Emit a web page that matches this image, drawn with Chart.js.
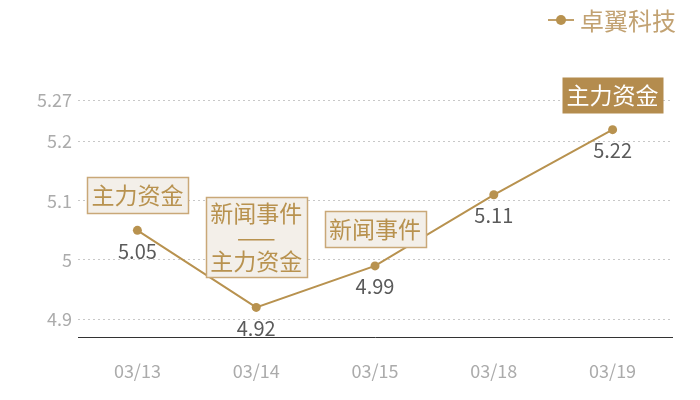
<!DOCTYPE html>
<html>
<head>
<meta charset="utf-8">
<script src="https://cdn.jsdelivr.net/npm/chart.js@4/dist/chart.umd.min.js"></script>
<style>
  html, body { margin: 0; padding: 0; background: #fff; }
  #wrap { width: 700px; height: 400px; }
</style>
</head>
<body>
<div id="wrap"><canvas id="stockChart" width="700" height="400"></canvas></div>
<script>
const seriesName = '卓翼科技';
const dates = ['03/13', '03/14', '03/15', '03/18', '03/19'];
const prices = [5.05, 4.92, 4.99, 5.11, 5.22];
const yTicks = [4.9, 5, 5.1, 5.2, 5.27];
const yMin = 4.87;
const yMax = 5.27;
// event tags above each point (null = none)
const eventTags = [['主力资金'], ['新闻事件', '——', '主力资金'], ['新闻事件'], null, ['主力资金']];
const tagHighlighted = [false, false, false, false, true];

const GOLD = '#b8924f';
const FONT = '"Noto Sans CJK SC", "Noto Sans", sans-serif';

// draws value labels, event boxes and the legend
const decorPlugin = {
  id: 'decor',
  afterDatasetsDraw(chart, args, opts) {
    const ctx = chart.ctx;
    const meta = chart.getDatasetMeta(0);
    ctx.save();
    // value labels under points
    ctx.font = '20px ' + FONT;
    ctx.fillStyle = '#5a5a5a';
    ctx.textAlign = 'center';
    ctx.textBaseline = 'middle';
    meta.data.forEach((pt, i) => {
      ctx.fillText(prices[i].toFixed(2), pt.x, pt.y + 21);
    });

    // event boxes
    ctx.font = '23px ' + FONT;
    meta.data.forEach((pt, i) => {
      const lines = eventTags[i];
      if (!lines) return;
      const w = 101, lh = 24;
      const h = lines.length === 1 ? 36 : lines.length * lh + 8;
      const gap = opts.gaps[i];
      const x = Math.round(pt.x - w / 2) + 0.5;
      const y = Math.round(pt.y - gap - h) + 0.5;
      if (tagHighlighted[i]) {
        ctx.fillStyle = '#b48c4e';
        ctx.fillRect(x, y, w, h);
        ctx.fillStyle = '#ffffff';
      } else {
        ctx.fillStyle = '#f3efe9';
        ctx.fillRect(x, y, w, h);
        ctx.strokeStyle = '#c9a878';
        ctx.lineWidth = 1.5;
        ctx.strokeRect(x, y, w, h);
        ctx.fillStyle = GOLD;
      }
      const startY = y + h / 2 - (lines.length - 1) * lh / 2;
      lines.forEach((t, k) => {
        ctx.fillText(t, pt.x, startY + k * lh);
      });
    });

    // legend
    const lx = 548, ly = 20;
    ctx.strokeStyle = '#c1a06a';
    ctx.lineWidth = 2;
    ctx.beginPath();
    ctx.moveTo(lx, ly);
    ctx.lineTo(lx + 26, ly);
    ctx.stroke();
    ctx.fillStyle = '#b8924f';
    ctx.beginPath();
    ctx.arc(lx + 13, ly, 5, 0, Math.PI * 2);
    ctx.fill();
    ctx.fillStyle = '#c2a272';
    ctx.textAlign = 'left';
    ctx.font = '24px ' + FONT;
    ctx.fillText(seriesName, lx + 32, ly + 1);
    ctx.restore();
  }
};

new Chart(document.getElementById('stockChart'), {
  type: 'line',
  data: {
    labels: dates,
    datasets: [{
      label: seriesName,
      data: prices,
      borderColor: GOLD,
      backgroundColor: GOLD,
      borderWidth: 2,
      pointRadius: 4.5,
      pointBackgroundColor: GOLD,
      pointBorderWidth: 0,
      tension: 0
    }]
  },
  options: {
    responsive: false,
    animation: false,
    layout: { padding: { top: 100, right: 28, left: 0, bottom: 0 } },
    plugins: {
      legend: { display: false },
      tooltip: { enabled: false },
      decor: { gaps: [17, 30, 19, 0, 17] }
    },
    scales: {
      x: {
        offset: true,
        grid: { display: false, drawTicks: false },
        border: { display: true, color: '#333', width: 1 },
        ticks: { color: '#ababab', font: { family: FONT, size: 18 }, padding: 23 },
        afterFit: (s) => { s.height = 63; }
      },
      y: {
        min: yMin,
        max: yMax,
        afterBuildTicks: (s) => { s.ticks = yTicks.map(v => ({ value: v })); },
        grid: { color: '#c8c8c8', drawTicks: false, lineWidth: 1 },
        border: { display: false, dash: [2, 3] },
        ticks: {
          color: '#ababab',
          font: { family: FONT, size: 18 },
          padding: 6,
          callback: (v) => String(+v.toFixed(2))
        },
        afterFit: (s) => { s.width = 78; }
      }
    }
  },
  plugins: [decorPlugin]
});
</script>
</body>
</html>
